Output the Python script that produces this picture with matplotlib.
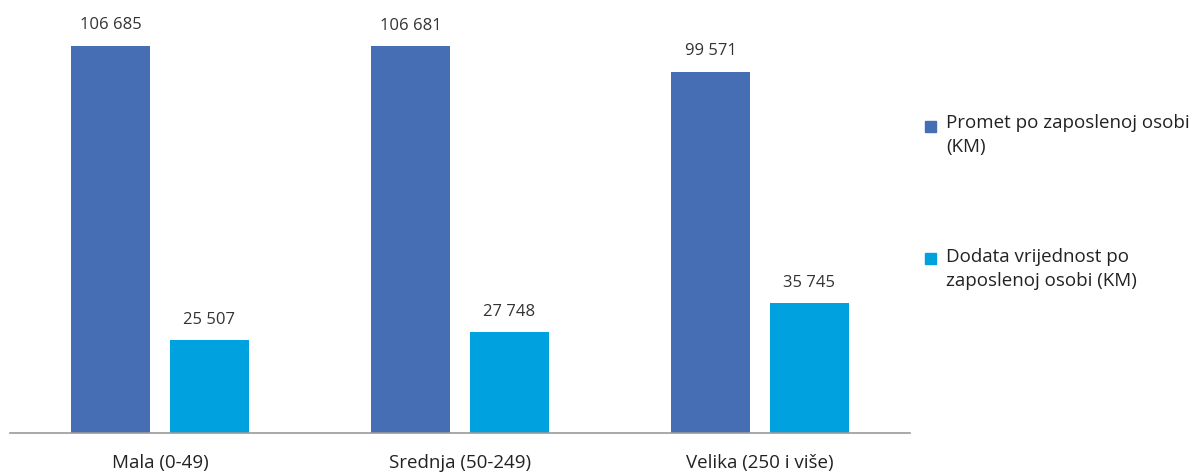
import matplotlib
matplotlib.use("Agg")
import matplotlib.pyplot as plt
import numpy as np
from matplotlib.patches import Rectangle

categories = ["Mala (0-49)", "Srednja (50-249)", "Velika (250 i više)"]
promet = [106685, 106681, 99571]
dodata = [25507, 27748, 35745]
series_names = ["Promet po zaposlenoj osobi\n(KM)", "Dodata vrijednost po\nzaposlenoj osobi (KM)"]
colors = ["#466EB4", "#00A1DF"]

plt.rcParams['font.family'] = ['Open Sans', 'DejaVu Sans']
W, H = 1199, 475
fig = plt.figure(figsize=(W/100, H/100), dpi=100)
ax = fig.add_axes([10/W, (H-433)/H, 900/W, 413/H])

x = np.arange(len(categories))
bw = 0.263
off = 0.165
for vals, dx, c in [(promet, -off, colors[0]), (dodata, off, colors[1])]:
    bars = ax.bar(x + dx, vals, width=bw, color=c)
    for b, v in zip(bars, vals):
        ax.annotate(f"{v:,}".replace(",", " "), (b.get_x() + b.get_width()/2, v),
                    xytext=(0, 9), textcoords="offset points", ha="center", va="bottom",
                    fontsize=12, color="#333333")

ax.set_xlim(-0.5, 2.5)
ax.set_ylim(0, 106685 * 413 / 387)
for s in ["top", "right", "left"]:
    ax.spines[s].set_visible(False)
ax.spines["bottom"].set_color("#999999")
ax.spines["bottom"].set_linewidth(1.2)
ax.set_yticks([])
ax.set_xticks(x)
ax.set_xticklabels(categories, fontsize=13.5, color="#222222")
ax.tick_params(axis="x", length=0, pad=15)

# legend
for name, c, sq_top, txt_top in zip(series_names, colors, [121, 253], [114, 248]):
    fig.patches.append(Rectangle((925/W, 1 - (sq_top+11)/H), 11/W, 11/H, transform=fig.transFigure,
                                 color=c, figure=fig))
    fig.text(946/W, 1 - txt_top/H, name, fontsize=13.5, color="#222222", va="top", ha="left",
             linespacing=1.4)

fig.savefig("out.png", dpi=100)
